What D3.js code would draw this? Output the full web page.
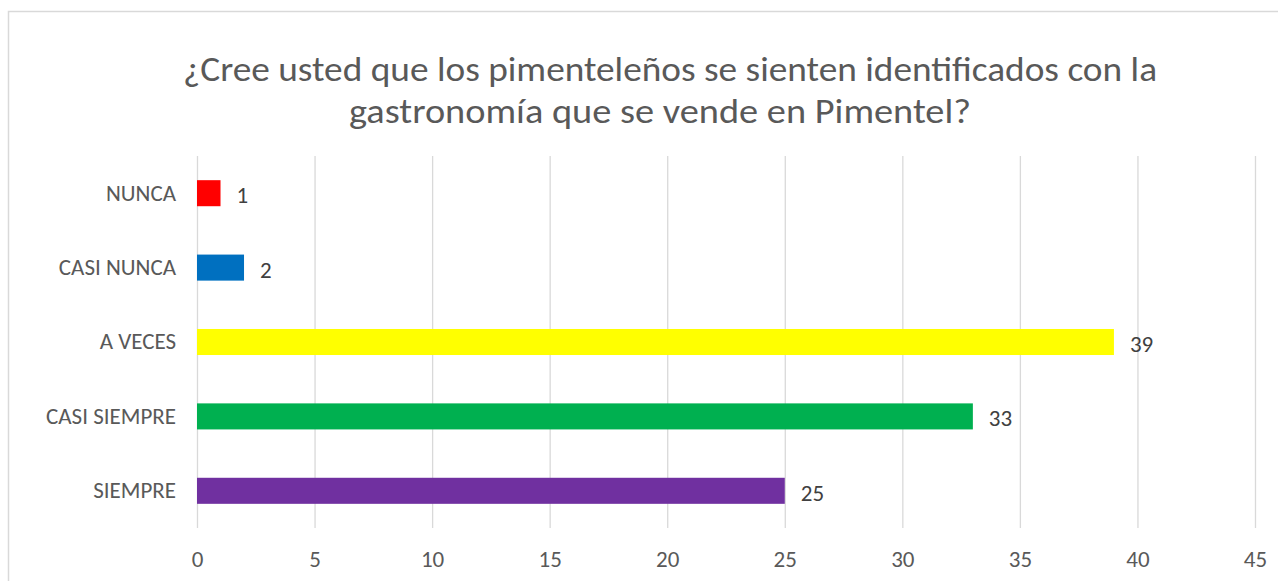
<!DOCTYPE html>
<html>
<head>
    <meta charset="utf-8">
    <script src="https://d3js.org/d3.v7.min.js"></script>
    <title>Pimentel gastronomía</title>
    <style>
        body {
            margin: 0px;
            background: #fff;
        }

        text {
            font-family: Calibri, Carlito, Lato, "Noto Sans", sans-serif;
            font-weight: 300;
            fill: #595959;
        }

        .domain {
            display: none;
        }

        .grid line {
            stroke: #d9d9d9;
            stroke-width: 1.3;
        }
    </style>
</head>
<body>
    <svg width="1278" height="581"></svg>
    <script>
        // Data
        const categories = ['NUNCA', 'CASI NUNCA', 'A VECES', 'CASI SIEMPRE', 'SIEMPRE'];
        const values = [1, 2, 39, 33, 25];
        const barColors = ['#ff0000', '#0070c0', '#ffff00', '#00b050', '#7030a0'];
        const xTicks = [0, 5, 10, 15, 20, 25, 30, 35, 40, 45];
        const titleLines = [
            '¿Cree usted que los pimenteleños se sienten identificados con la',
            'gastronomía que se vende en Pimentel?'
        ];

        const svg = d3.select('svg');

        // chart area frame (bottom and right run past the picture)
        svg.append('rect')
            .attr('x', 8.5)
            .attr('y', 11.5)
            .attr('width', 1400)
            .attr('height', 700)
            .attr('fill', 'none')
            .attr('stroke', '#d9d9d9')
            .attr('stroke-width', 1.5);

        // title
        const titleWidths = [974, 622];
        svg.selectAll('.title')
            .data(titleLines)
            .enter().append('text')
            .attr('class', 'title')
            .attr('x', (d, i) => i === 0 ? 670 : 660)
            .attr('y', (d, i) => 81 + i * 42)
            .attr('text-anchor', 'middle')
            .attr('textLength', (d, i) => titleWidths[i])
            .attr('lengthAdjust', 'spacingAndGlyphs')
            .style('font-size', '34px')
            .text(d => d);

        const plot = {left: 197, right: 1255, top: 156, bottom: 528};

        const xScale = d3.scaleLinear()
            .domain([0, 45])
            .range([plot.left, plot.right]);

        const yScale = d3.scaleBand()
            .domain(categories)
            .range([plot.top, plot.bottom])
            .paddingInner(0.65)
            .paddingOuter(0.325);

        // vertical gridlines
        const gridAxis = d3.axisBottom(xScale)
            .tickValues(xTicks)
            .tickSize(-(plot.bottom - plot.top))
            .tickFormat('');
        svg.append('g')
            .attr('class', 'grid')
            .attr('transform', `translate(0,${plot.bottom})`)
            .call(gridAxis);

        // x tick labels
        const xAxis = d3.axisBottom(xScale)
            .tickValues(xTicks)
            .tickSize(0)
            .tickPadding(23);
        const xAxisG = svg.append('g')
            .attr('transform', `translate(0,${plot.bottom})`)
            .call(xAxis);
        xAxisG.selectAll('text')
            .style('font-size', '23px')
            .attr('fill', '#595959');

        // category labels
        const yAxis = d3.axisLeft(yScale)
            .tickSize(0)
            .tickPadding(21);
        const yAxisG = svg.append('g')
            .attr('transform', `translate(${plot.left},0)`)
            .call(yAxis);
        yAxisG.selectAll('text')
            .style('font-size', '23px')
            .attr('fill', '#595959');

        // bars
        svg.selectAll('.bar')
            .data(values)
            .enter().append('rect')
            .attr('class', 'bar')
            .attr('x', xScale(0))
            .attr('y', (d, i) => yScale(categories[i]))
            .attr('width', d => xScale(d) - xScale(0))
            .attr('height', yScale.bandwidth())
            .attr('fill', (d, i) => barColors[i]);

        // value labels
        svg.selectAll('.val')
            .data(values)
            .enter().append('text')
            .attr('class', 'val')
            .attr('x', d => xScale(d) + 16)
            .attr('y', (d, i) => yScale(categories[i]) + yScale.bandwidth() / 2 + 2)
            .attr('dy', '0.35em')
            .style('font-size', '23px')
            .style('fill', '#404040')
            .text(d => d);
    </script>
</body>
</html>
